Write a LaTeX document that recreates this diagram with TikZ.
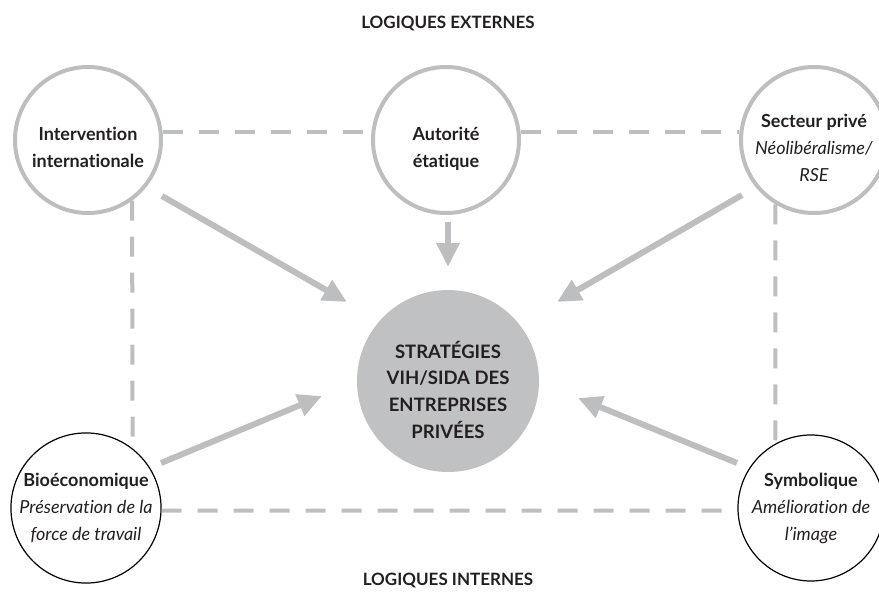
\documentclass[tikz,border=0pt]{standalone}
\usepackage{fontspec}
\setmainfont{Lato}[Ligatures={NoCommon}]
\usetikzlibrary{arrows.meta}
\definecolor{lg}{HTML}{BDBEC0}
\definecolor{cfill}{HTML}{C0C1C3}
\definecolor{txt}{HTML}{231F20}
\newcommand\lowtext[2]{\raisebox{-#1}[\height][\depth]{\begin{tabular}{@{}c@{}}#2\end{tabular}}}
\begin{document}
\begin{tikzpicture}[x=1pt,y=-1pt,
  lab/.style={text=txt,font=\fontsize{17}{27}\selectfont\bfseries},
  ext/.style={circle,draw=lg,line width=4pt,fill=white,minimum size=146pt,inner sep=0pt,align=center,text=txt,font=\fontsize{18}{27}\selectfont},
  intn/.style={circle,draw=black,line width=1.2pt,fill=white,minimum size=146pt,inner sep=0pt,align=center,text=txt,font=\fontsize{18}{27}\selectfont},
  core/.style={circle,fill=cfill,draw=none,minimum size=182pt,inner sep=0pt,align=center,text=txt,font=\fontsize{18.5}{26.7}\selectfont\bfseries},
  dashline/.style={draw=lg,line width=4pt,dash pattern=on 20pt off 16pt},
  arr/.style={draw=lg,line width=6pt,-{Triangle[length=24pt,width=22pt]}}]
\useasboundingbox (0,0) rectangle (879,607);
\node[lab] (ext) at (448,23) {LOGIQUES EXTERNES};
\node[lab] (int) at (448,580) {LOGIQUES INTERNES};
\node[ext] (A) at (88,140) {\lowtext{9pt}{\textbf{Intervention}\\\textbf{internationale}}};
\node[ext] (B) at (446,140) {\lowtext{9pt}{\textbf{Autorité}\\\textbf{étatique}}};
\node[ext] (C) at (814,140) {\lowtext{9pt}{\textbf{Secteur privé}\\\textit{Néolibéralisme/}\\\textit{RSE}}};
\node[intn] (D) at (86,508) {\textbf{Bioéconomique}\\\textit{Préservation de la}\\\textit{force de travail}};
\node[intn] (E) at (811,508) {\textbf{Symbolique}\\\textit{Amélioration de}\\\textit{l’image}};
\node[core] (M) at (448,381) {\lowtext{12pt}{STRATÉGIES\\VIH/SIDA DES\\ENTREPRISES\\PRIVÉES}};
\draw[dashline] (A.6) -- (B.174);
\draw[dashline] (B.6) -- (C.174);
\draw[dashline] (D.-2) -- (E.182);
\draw[dashline] (A.-54) -- (D.52);
\draw[dashline] (C.-121) -- (E.119);
\coordinate (a1s) at (162,196); \coordinate (a1e) at (347,302);
\coordinate (a2s) at (448,222); \coordinate (a2e) at (448,267);
\coordinate (a3s) at (742,195); \coordinate (a3e) at (557,302);
\coordinate (a4s) at (161,463); \coordinate (a4e) at (322,396);
\coordinate (a5s) at (737,463); \coordinate (a5e) at (578,398);
\draw[arr] (a1s) -- (a1e);
\draw[arr] (a2s) -- (a2e);
\draw[arr] (a3s) -- (a3e);
\draw[arr] (a4s) -- (a4e);
\draw[arr] (a5s) -- (a5e);
\end{tikzpicture}
\end{document}
